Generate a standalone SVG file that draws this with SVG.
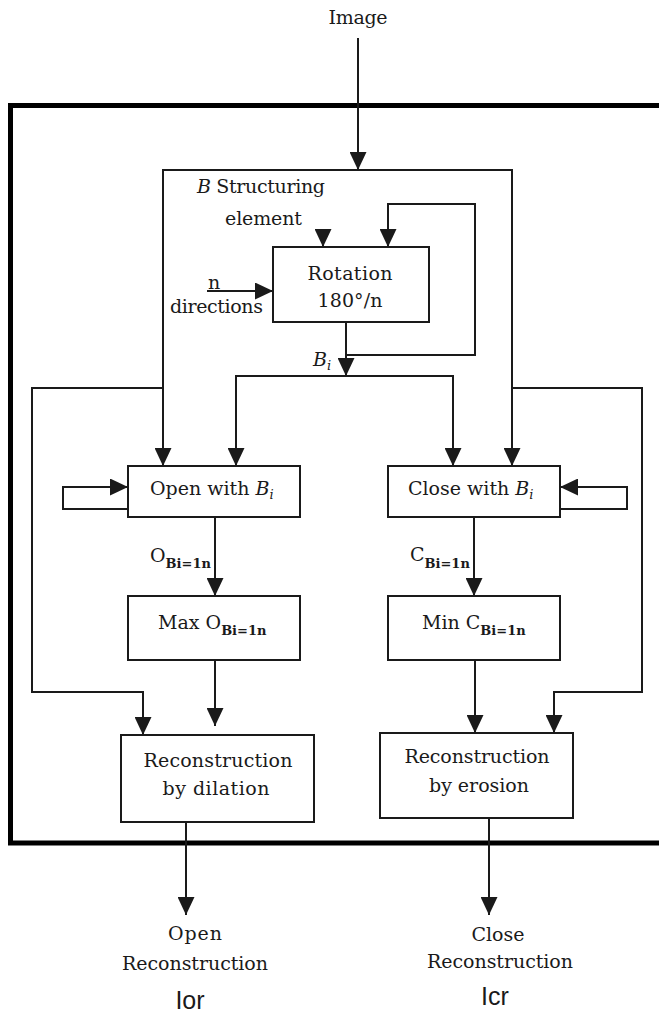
<svg xmlns="http://www.w3.org/2000/svg" width="659" height="1015" viewBox="0 0 659 1015">
  <style>
    .frame { fill: none; stroke: #000; stroke-width: 5; }
    .box { fill: #fff; stroke: #1a1a1a; stroke-width: 2; }
    .arrow { fill: none; stroke: #1a1a1a; stroke-width: 2; marker-end: url(#head); }
    text { font-family: "DejaVu Serif", "Liberation Serif", serif; font-size: 19px; fill: #1a1a1a; }
    .mid { text-anchor: middle; }
    .sub { font-size: 13px; font-weight: bold; }
    .subi { font-size: 13px; font-style: italic; }
    .it { font-style: italic; }
    .out { font-family: "Liberation Sans", Arial, sans-serif; font-size: 25px; }
  </style>
  <defs>
    <marker id="head" markerUnits="userSpaceOnUse" markerWidth="18" markerHeight="17" viewBox="0 0 18 17" refX="18" refY="8.5" orient="auto">
      <path d="M0,0 L18,8.5 L0,17 z" fill="#1a1a1a"/>
    </marker>
  </defs>
  <rect width="659" height="1015" fill="#fff"/>

  <!-- outer processing frame (open on the right) -->
  <path class="frame" d="M665,105.5 H10.5 V843 H665"/>

  <g id="connectors">
    <path class="arrow" d="M358,38 V170"/>
    <path class="arrow" d="M358,170 H163 V466"/>
    <path class="arrow" d="M358,170 H512 V466"/>
    <path class="arrow" d="M323,231 V247"/>
    <path class="arrow" d="M346,322 V355 H475 V204 H388 V247"/>
    <path class="arrow" d="M207,291 H273"/>
    <path class="arrow" d="M346,322 V376"/>
    <path class="arrow" d="M346,376 H236 V466"/>
    <path class="arrow" d="M346,376 H453 V466"/>
    <path class="arrow" d="M163,388 H32 V692 H143 V735"/>
    <path class="arrow" d="M512,388 H642 V692 H554 V733"/>
    <path class="arrow" d="M128,509 H63 V487 H128"/>
    <path class="arrow" d="M560,509 H627 V487 H560"/>
    <path class="arrow" d="M215,517 V596"/>
    <path class="arrow" d="M474,517 V596"/>
    <path class="arrow" d="M215,660 V726"/>
    <path class="arrow" d="M475,660 V733"/>
    <path class="arrow" d="M186,822 V915"/>
    <path class="arrow" d="M489,818 V915"/>
  </g>

  <g id="input">
    <text class="mid" x="358" y="24" textLength="59">Image</text>
  </g>

  <g id="structuring">
    <text x="197" y="193" textLength="128"><tspan class="it">B</tspan> Structuring</text>
    <text x="225" y="225" textLength="77">element</text>
  </g>

  <g id="directions">
    <text x="208" y="289">n</text>
    <text x="170" y="313" textLength="93">directions</text>
  </g>

  <g id="rotation">
    <rect class="box" x="273" y="247" width="156" height="75"/>
    <text class="mid" x="350" y="280" textLength="85">Rotation</text>
    <text class="mid" x="350" y="307" textLength="65">180°/n</text>
  </g>

  <g id="bi-label">
    <text class="it" x="313" y="366">B<tspan class="subi" dy="4">i</tspan></text>
  </g>

  <g id="open">
    <rect class="box" x="128" y="466" width="172" height="51"/>
    <text x="150" y="495">Open with <tspan class="it">B</tspan><tspan class="subi" dy="4">i</tspan></text>
  </g>

  <g id="close">
    <rect class="box" x="388" y="466" width="172" height="51"/>
    <text x="408" y="495">Close with <tspan class="it">B</tspan><tspan class="subi" dy="4">i</tspan></text>
  </g>

  <g id="open-label">
    <text x="150" y="562">O<tspan class="sub" dy="6">Bi=1n</tspan></text>
  </g>

  <g id="close-label">
    <text x="410" y="561">C<tspan class="sub" dy="7">Bi=1n</tspan></text>
  </g>

  <g id="max">
    <rect class="box" x="128" y="596" width="172" height="64"/>
    <text x="158" y="629">Max O<tspan class="sub" dy="6">Bi=1n</tspan></text>
  </g>

  <g id="min">
    <rect class="box" x="388" y="596" width="172" height="64"/>
    <text x="422" y="629">Min C<tspan class="sub" dy="6">Bi=1n</tspan></text>
  </g>

  <g id="recon-dilation">
    <rect class="box" x="121" y="735" width="193" height="87"/>
    <text class="mid" x="218" y="767" textLength="149">Reconstruction</text>
    <text class="mid" x="216" y="795" textLength="107">by dilation</text>
  </g>

  <g id="recon-erosion">
    <rect class="box" x="380" y="733" width="193" height="85"/>
    <text class="mid" x="477" y="763" textLength="145">Reconstruction</text>
    <text class="mid" x="479" y="792" textLength="100">by erosion</text>
  </g>

  <g id="open-output">
    <text class="mid" x="195" y="940" textLength="54">Open</text>
    <text class="mid" x="195" y="970" textLength="146">Reconstruction</text>
    <text class="mid out" x="190" y="1009">Ior</text>
  </g>

  <g id="close-output">
    <text class="mid" x="498" y="941" textLength="53">Close</text>
    <text class="mid" x="500" y="968" textLength="146">Reconstruction</text>
    <text class="mid out" x="495" y="1005">Icr</text>
  </g>
</svg>
